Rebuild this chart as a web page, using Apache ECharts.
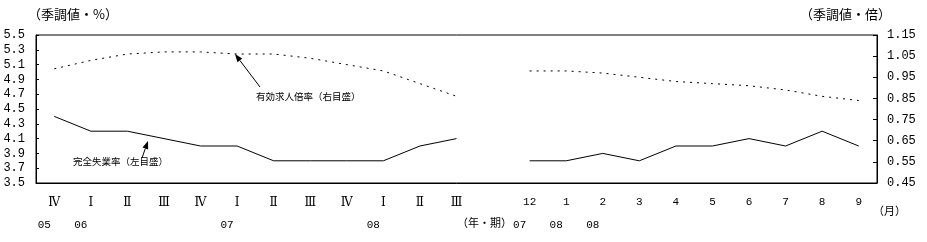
<!DOCTYPE html>
<html>
<head>
<meta charset="utf-8">
<script src="https://cdn.jsdelivr.net/npm/echarts@6/dist/echarts.min.js"></script>
<style>
html,body{margin:0;padding:0;background:#fff;}
#c{width:927px;height:242px;}
</style>
</head>
<body>
<div id="c"></div>
<script>
// ---- data ----
var quarterLabels = ['Ⅳ','Ⅰ','Ⅱ','Ⅲ','Ⅳ','Ⅰ','Ⅱ','Ⅲ','Ⅳ','Ⅰ','Ⅱ','Ⅲ'];
var quarterYears  = ['05','06','','','','07','','','','08','',''];
var monthLabels   = ['12','1','2','3','4','5','6','7','8','9'];
var monthYears    = ['07','08','08','','','','','','',''];
var unempQuarter  = [4.4,4.2,4.2,4.1,4.0,4.0,3.8,3.8,3.8,3.8,4.0,4.1];
var unempMonth    = [3.8,3.8,3.9,3.8,4.0,4.0,4.1,4.0,4.2,4.0];
var ratioQuarter  = [0.99,1.03,1.06,1.07,1.07,1.06,1.06,1.04,1.01,0.98,0.92,0.86];
var ratioMonth    = [0.98,0.98,0.97,0.95,0.93,0.92,0.91,0.89,0.86,0.84];
var leftTicks  = [3.5,3.7,3.9,4.1,4.3,4.5,4.7,4.9,5.1,5.3,5.5];
var rightTicks = [0.45,0.55,0.65,0.75,0.85,0.95,1.05,1.15];

// ---- build ----
var topLabels = quarterLabels.concat([''], monthLabels);
var botLabels = quarterYears.concat([''], monthYears);
var isMonth = quarterLabels.map(function(){return false;}).concat([false], monthLabels.map(function(){return true;}));
var cats = topLabels.map(function(_, i){ return 'c' + i; });
var unemp = unempQuarter.concat(['-'], unempMonth);
var ratio = ratioQuarter.concat(['-'], ratioMonth);

var JP = '"Noto Sans CJK JP", sans-serif';
var NUM = '"Liberation Mono", monospace';
var SERIF = '"DejaVu Serif", "Noto Sans CJK JP", serif';

function arrow(x1, y1, x2, y2) {
  var dx = x2 - x1, dy = y2 - y1, L = Math.sqrt(dx*dx + dy*dy);
  var ux = dx / L, uy = dy / L, hl = 8, hw = 3;
  var bx = x2 - ux*hl, by = y2 - uy*hl;
  return [
    {type:'line', silent:true, shape:{x1:x1,y1:y1,x2:bx,y2:by}, style:{stroke:'#000', lineWidth:1}},
    {type:'polygon', silent:true, shape:{points:[[x2,y2],[bx - uy*hw, by + ux*hw],[bx + uy*hw, by - ux*hw]]}, style:{fill:'#000'}}
  ];
}

var chart = echarts.init(document.getElementById('c'), null, {renderer:'canvas'});
var option = {
  animation: false,
  backgroundColor: '#fff',
  grid: {left:36, right:50, top:35, bottom:59, show:true, borderColor:'#000', borderWidth:1, backgroundColor:'transparent'},
  xAxis: {
    type: 'category',
    data: cats,
    boundaryGap: true,
    axisLine: {show:true, lineStyle:{color:'#000', width:1}},
    axisTick: {show:false},
    axisLabel: {
      interval: 0,
      margin: 8,
      formatter: function(v, i) {
        var t = topLabels[i], b = botLabels[i];
        var top = t ? (isMonth[i] ? '{m|' + t + '}' : '{q|' + t + '}') : '{q| }';
        var bot = b ? '{y|' + b + '}' : '{y| }';
        return top + '\n' + bot;
      },
      rich: {
        q: {fontFamily: SERIF, fontSize: 12, color:'#000', lineHeight: 23},
        m: {fontFamily: NUM, fontSize: 11, color:'#000', lineHeight: 23},
        y: {fontFamily: NUM, fontSize: 11, color:'#000', lineHeight: 23, padding:[0,20,0,0]}
      }
    },
    splitLine: {show:false}
  },
  yAxis: [
    {
      type: 'value', min: 3.5, max: 5.5, position: 'left',
      axisLine: {show:true, lineStyle:{color:'#000'}},
      axisTick: {show:true, inside:true, length:3, customValues: leftTicks, lineStyle:{color:'#000'}},
      axisLabel: {customValues: leftTicks, margin: 11, color:'#000', fontFamily: NUM, fontSize: 12,
        formatter: function(v){ return v.toFixed(1); }},
      splitLine: {show:false}
    },
    {
      type: 'value', min: 0.45, max: 1.15, position: 'right',
      axisLine: {show:true, lineStyle:{color:'#000'}},
      axisTick: {show:true, inside:true, length:4, customValues: rightTicks, lineStyle:{color:'#000'}},
      axisLabel: {customValues: rightTicks, margin: 10, color:'#000', fontFamily: NUM, fontSize: 12,
        formatter: function(v){ return v.toFixed(2); }},
      splitLine: {show:false}
    }
  ],
  series: [
    {name:'完全失業率', type:'line', yAxisIndex:0, data: unemp, symbol:'none', connectNulls:false,
      lineStyle:{color:'#000', width:1}, silent:true},
    {name:'有効求人倍率', type:'line', yAxisIndex:1, data: ratio, symbol:'none', connectNulls:false,
      lineStyle:{color:'#000', width:1, type:[2,5]}, silent:true}
  ],
  graphic: [
    {type:'text', left:28, top:8, style:{text:'（季調値・%）', font:'13px ' + JP, fill:'#000'}},
    {type:'text', left:800, top:8, style:{text:'（季調値・倍）', font:'13px ' + JP, fill:'#000'}},
    {type:'text', left:873, top:205, style:{text:'（月）', font:'11px ' + JP, fill:'#000'}},
    {type:'text', left:457, top:217, style:{text:'（年・期）', font:'11px ' + JP, fill:'#000'}},
    {type:'text', left:256, top:92, style:{text:'有効求人倍率（右目盛）', font:'9.5px ' + JP, fill:'#000'}},
    {type:'text', left:73, top:157, style:{text:'完全失業率（左目盛）', font:'9.5px ' + JP, fill:'#000'}}
  ].concat(arrow(260, 87, 235, 54), arrow(142, 158, 148, 141))
};
chart.setOption(option);
</script>
</body>
</html>
